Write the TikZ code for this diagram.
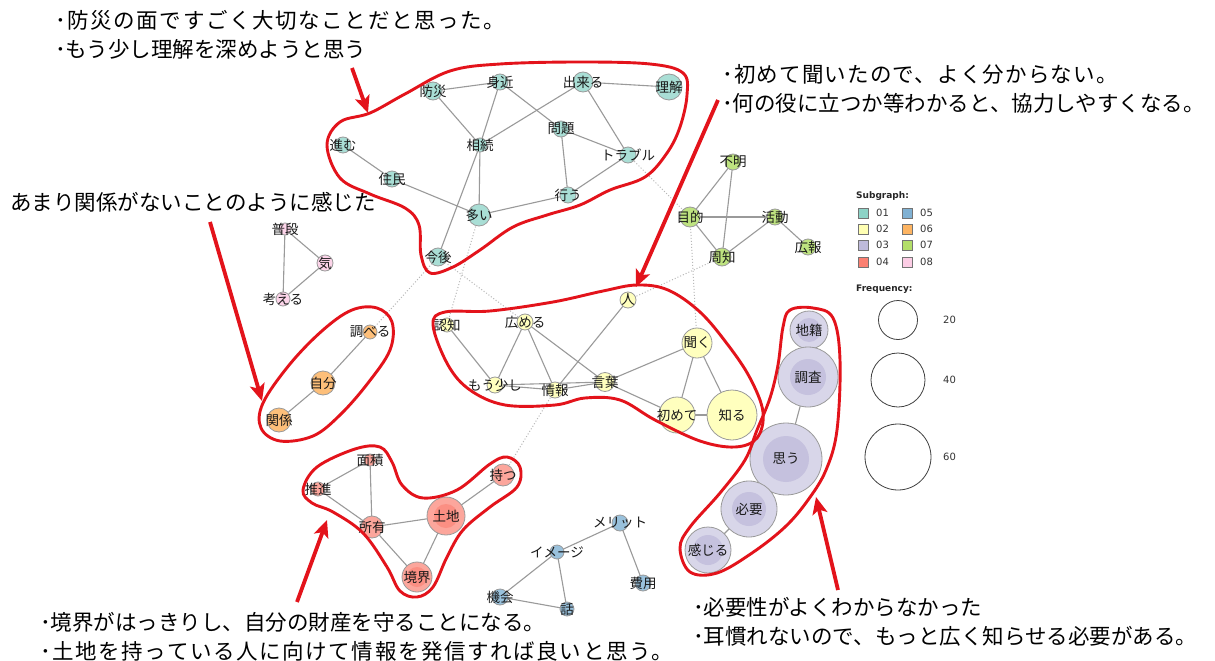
\documentclass[tikz,border=0pt]{standalone}
\usepackage{fontspec}
\newfontfamily\jp{Noto Sans CJK JP}
\newfontfamily\jpwide{Noto Sans CJK JP}[LetterSpace=7.5]
\newfontfamily\jpmid{Noto Sans CJK JP}[LetterSpace=5.5]
\newfontfamily\legfont{DejaVu Sans}
\usetikzlibrary{arrows.meta,backgrounds}
\definecolor{s1}{HTML}{8DD3C7}
\definecolor{s2}{HTML}{FFFFB3}
\definecolor{s3}{HTML}{BEBADA}
\definecolor{s4}{HTML}{FB8072}
\definecolor{s5}{HTML}{80B1D3}
\definecolor{s6}{HTML}{FDB462}
\definecolor{s7}{HTML}{B3DE69}
\definecolor{s8}{HTML}{FCCDE5}
\definecolor{rd}{HTML}{E3131B}
\definecolor{eg}{HTML}{9A9A9A}
\colorlet{c1}{s1!75!white}
\colorlet{c2}{s2!85!white}
\colorlet{c3}{s3!60!white}
\colorlet{c3i}{s3!90!white}
\colorlet{c4}{s4!70!white}
\colorlet{c4i}{s4!88!white}
\colorlet{c5}{s5!80!white}
\colorlet{c6}{s6!85!white}
\colorlet{c7}{s7!85!white}
\colorlet{c8}{s8!85!white}
\tikzset{
  v/.style 2 args={circle, draw=eg, line width=0.8pt, fill=#1, minimum size=#2, inner sep=0pt, outer sep=0pt},
  inr/.style 2 args={path picture={\fill[#1] (path picture bounding box.center) circle (#2);}},
  lbl/.style={font=\jp\fontsize{13.5}{15}\selectfont, text=black!90, inner sep=0pt},
  lab/.style={label={[lbl]center:#1}},
  edge/.style={draw=eg, line width=1.1pt},
  dots/.style={draw=eg!70, line width=1pt, dotted},
  outline/.style={draw=rd, line width=2.9pt},
  redarrow/.style={draw=rd, line width=3.8pt, -{Stealth[length=17pt,width=15pt,inset=4pt]}},
  note/.style={font=\jp\fontsize{21.5}{29}\selectfont, text=black, inner sep=0pt, align=left, anchor=west},
  lgt/.style={font=\legfont\fontsize{10}{11}\selectfont, text=black!80, inner sep=0pt, anchor=west},
  lgb/.style={font=\legfont\bfseries\fontsize{9}{11}\selectfont, text=black!85, inner sep=0pt, anchor=west},
  sq/.style={draw=black!55, line width=0.6pt, fill=#1, minimum size=10pt, inner sep=0pt},
  fc/.style={circle, draw=black!75, line width=0.8pt, inner sep=0pt, minimum size=#1}
}
\begin{document}
\begin{tikzpicture}[x=1pt,y=-1pt]
\useasboundingbox (0,0) rectangle (1215,661);

% ---- subgraph 01
\node[v={c1}{18pt}, lab=防災] (bousai) at (433,91) {};
\node[v={c1}{16pt}, lab=身近] (mijika) at (500,82) {};
\node[v={c1}{20pt}, lab=出来る] (dekiru) at (583,82) {};
\node[v={c1}{26pt}, lab=理解] (rikai) at (669,87) {};
\node[v={c1}{16pt}, lab=進む] (susumu) at (343,145) {};
\node[v={c1}{14pt}, lab=相続] (souzoku) at (480,145) {};
\node[v={c1}{16pt}, lab=問題] (mondai) at (561,129) {};
\node[v={c1}{16pt}, lab=トラブル] (trouble) at (628,155) {};
\node[v={c1}{16pt}, lab=住民] (juumin) at (392,179) {};
\node[v={c1}{22pt}, lab=多い] (ooi) at (479,215) {};
\node[v={c1}{16pt}, lab=行う] (okonau) at (568,195) {};
\node[v={c1}{18pt}, lab=今後] (kongo) at (438,257) {};

% ---- subgraph 02
\node[v={c2}{16pt}, lab=人] (hito) at (628,300) {};
\node[v={c2}{14pt}, lab=認知] (ninchi) at (447,325) {};
\node[v={c2}{16pt}, lab=広める] (hiromeru) at (525,322) {};
\node[v={c2}{30pt}, lab=聞く] (kiku) at (697,343) {};
\node[v={c2}{16pt}, lab=もう少し] (mousukoshi) at (495,385) {};
\node[v={c2}{16pt}, lab=情報] (jouhou) at (555,390) {};
\node[v={c2}{19pt}, lab=言葉] (kotoba) at (605,382) {};
\node[v={c2}{36pt}, lab=初めて] (hajimete) at (677,415) {};
\node[v={c2}{50pt}, lab=知る] (shiru) at (732,415) {};

% ---- subgraph 03
\node[v={c3}{38pt}, inr={c3i}{12pt}, lab=地籍] (chiseki) at (809,330) {};
\node[v={c3}{60pt}, inr={c3i}{18pt}, lab=調査] (chousa) at (808,377) {};
\node[v={c3}{72pt}, inr={c3i}{23pt}, lab=思う] (omou) at (786,459) {};
\node[v={c3}{56pt}, inr={c3i}{17pt}, lab=必要] (hitsuyou) at (749,509) {};
\node[v={c3}{46pt}, inr={c3i}{15pt}, lab=感じる] (kanjiru) at (708,550) {};

% ---- subgraph 04
\node[v={c4}{12pt}, lab=面積] (menseki) at (370,460) {};
\node[v={c4}{14pt}, lab=推進] (suishin) at (318,489) {};
\node[v={c4}{22pt}, lab=持つ] (motsu) at (503,475) {};
\node[v={c4}{22pt}, lab=所有] (shoyuu) at (372,527) {};
\node[v={c4}{38pt}, inr={c4i}{12pt}, lab=土地] (tochi) at (446,516) {};
\node[v={c4}{30pt}, inr={c4i}{10pt}, lab=境界] (kyoukai) at (417,577) {};

% ---- subgraph 05
\node[v={c5}{16pt}, lab=メリット] (merit) at (620,523) {};
\node[v={c5}{14pt}, lab=イメージ] (imeeji) at (557,552) {};
\node[v={c5}{16pt}, lab=費用] (hiyou) at (643,583) {};
\node[v={c5}{16pt}, lab=機会] (kikai) at (500,597) {};
\node[v={c5}{14pt}, lab=話] (hanashi) at (567,609) {};

% ---- subgraph 06
\node[v={c6}{14pt}, lab=調べる] (shiraberu) at (370,332) {};
\node[v={c6}{24pt}, lab=自分] (jibun) at (323,383) {};
\node[v={c6}{24pt}, lab=関係] (kankei) at (279,420) {};

% ---- subgraph 07
\node[v={c7}{16pt}, lab=不明] (fumei) at (733,162) {};
\node[v={c7}{20pt}, lab=目的] (mokuteki) at (690,217) {};
\node[v={c7}{16pt}, lab=活動] (katsudou) at (775,217) {};
\node[v={c7}{18pt}, lab=周知] (shuuchi) at (722,257) {};
\node[v={c7}{16pt}, lab=広報] (kouhou) at (808,247) {};

% ---- subgraph 08
\node[v={c8}{12pt}, lab=普段] (fudan) at (285,229) {};
\node[v={c8}{16pt}, lab=気] (ki) at (325,263) {};
\node[v={c8}{14pt}, lab=考える] (kangaeru) at (283,299) {};

\begin{scope}[on background layer]
\fill[white] (0,0) rectangle (1215,661);
\foreach \a/\b in {bousai/mijika, bousai/souzoku, mijika/souzoku, mijika/mondai, dekiru/rikai, dekiru/souzoku, dekiru/trouble, mondai/trouble, mondai/okonau, trouble/okonau, susumu/juumin, juumin/ooi, souzoku/ooi, souzoku/kongo, ooi/okonau,
  ninchi/mousukoshi, hiromeru/mousukoshi, hiromeru/jouhou, hiromeru/kotoba, hito/jouhou, mousukoshi/jouhou, mousukoshi/kotoba, jouhou/kotoba, kotoba/kiku, kotoba/hajimete, kiku/hajimete, kiku/shiru, hajimete/shiru,
  chiseki/chousa, chousa/omou, omou/hitsuyou, hitsuyou/kanjiru,
  menseki/suishin, menseki/shoyuu, suishin/shoyuu, shoyuu/tochi, shoyuu/kyoukai, tochi/kyoukai, tochi/motsu,
  merit/imeeji, merit/hiyou, imeeji/kikai, imeeji/hanashi, kikai/hanashi,
  shiraberu/jibun, jibun/kankei,
  fumei/mokuteki, fumei/shuuchi, mokuteki/katsudou, mokuteki/shuuchi, shuuchi/katsudou, katsudou/kouhou,
  fudan/ki, fudan/kangaeru, ki/kangaeru}
  \draw[edge] (\a.center) -- (\b.center);
\foreach \a/\b in {ooi/ninchi, kongo/hiromeru, kongo/shiraberu, trouble/mokuteki, mokuteki/kiku, shuuchi/hito, jouhou/motsu}
  \draw[dots] (\a.center) -- (\b.center);
\end{scope}

% ---- red outlines
\draw[outline] plot[smooth cycle, tension=0.6] coordinates {(327,145) (340,122) (370,113) (405,94) (450,71) (500,64) (580,62) (650,64) (683,73) (687,95) (680,127) (667,153) (645,177) (610,190) (580,205) (547,215) (513,227) (480,250) (453,267) (430,273) (421,255) (419,225) (405,208) (370,194) (340,178)};
\draw[outline] plot[smooth cycle, tension=0.6] coordinates {(433,325) (445,312) (490,311) (553,302) (603,291) (637,285) (668,290) (700,312) (728,345) (750,378) (763,412) (757,438) (735,447) (700,441) (655,420) (620,400) (585,398) (555,405) (505,405) (470,390) (448,365)};
\draw[outline] plot[smooth cycle, tension=0.6] coordinates {(790,310) (813,308) (833,318) (840,360) (837,430) (826,470) (808,500) (785,527) (752,553) (717,573) (690,572) (680,548) (690,527) (720,493) (745,460) (757,430) (770,398) (778,365) (783,327)};
\draw[outline] plot[smooth cycle, tension=0.6] coordinates {(377,308) (392,322) (390,350) (368,383) (340,415) (313,436) (280,441) (261,428) (263,403) (290,364) (323,330) (352,310)};
\draw[outline] plot[smooth cycle, tension=0.6] coordinates {(303,490) (317,467) (355,449) (380,447) (392,462) (402,485) (423,498) (457,490) (490,464) (507,457) (520,467) (517,487) (490,507) (463,530) (447,557) (433,587) (417,597) (400,591) (387,567) (363,533) (333,512) (312,503)};

% ---- notes
\node[note] (n1) at (55,35) {{\jpwide ･防災の面ですごく大切なことだと思った。}\\･もう少し理解を深めようと思う};
\node[note] (n2) at (10,202) {あまり関係がないことのように感じた};
\node[note] (n3) at (722,89) {{\jpmid ･初めて聞いたので、よく分からない。}\\･何の役に立つか等わかると、協力しやすくなる。};
\node[note] (n4) at (40,637) {･境界がはっきりし、自分の財産を守ることになる。\\{\jpwide ･土地を持っている人に向けて情報を発信すれば良いと思う。}};
\node[note] (n5) at (693,622) {･必要性がよくわからなかった\\･耳慣れないので、もっと広く知らせる必要がある。};

% ---- red arrows
\coordinate (a1s) at (352,68); \coordinate (a1e) at (368,113);
\coordinate (a2s) at (210,222); \coordinate (a2e) at (262,401);
\coordinate (a3s) at (718,100); \coordinate (a3e) at (636,287);
\coordinate (a4s) at (297,602); \coordinate (a4e) at (327,520);
\coordinate (a5s) at (838,590); \coordinate (a5e) at (816,497);
\draw[redarrow] (a1s) -- (a1e);
\draw[redarrow] (a2s) -- (a2e);
\draw[redarrow] (a3s) -- (a3e);
\draw[redarrow] (a4s) -- (a4e);
\draw[redarrow] (a5s) -- (a5e);

% ---- legend
\node[lgb] (lgsub) at (856,196) {Subgraph:};
\node[sq=s1] (q1) at (863,213) {}; \node[lgt] (t1) at (876,213) {01};
\node[sq=s2] (q2) at (863,229) {}; \node[lgt] (t2) at (876,229) {02};
\node[sq=s3] (q3) at (863,245) {}; \node[lgt] (t3) at (876,245) {03};
\node[sq=s4] (q4) at (863,262) {}; \node[lgt] (t4) at (876,262) {04};
\node[sq=s5] (q5) at (907,213) {}; \node[lgt] (t5) at (920,213) {05};
\node[sq=s6] (q6) at (907,229) {}; \node[lgt] (t6) at (920,229) {06};
\node[sq=s7] (q7) at (907,245) {}; \node[lgt] (t7) at (920,245) {07};
\node[sq=s8] (q8) at (907,262) {}; \node[lgt] (t8) at (920,262) {08};
\node[lgb] (lgfreq) at (856,289) {Frequency:};
\node[fc=39pt] (f20) at (898,320) {}; \node[lgt] (l20) at (943,320) {20};
\node[fc=54pt] (f40) at (898,380) {}; \node[lgt] (l40) at (943,380) {40};
\node[fc=66pt] (f60) at (898,457) {}; \node[lgt] (l60) at (943,457) {60};
\end{tikzpicture}
\end{document}
